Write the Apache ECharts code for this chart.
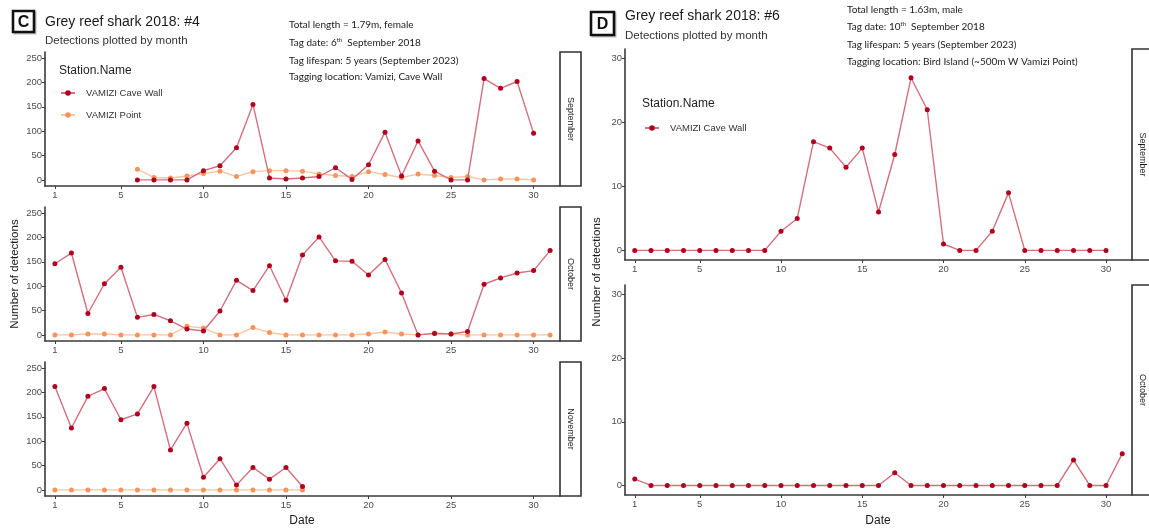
<!DOCTYPE html>
<html><head><meta charset="utf-8">
<script src="https://cdn.jsdelivr.net/npm/echarts@6/dist/echarts.min.js"></script>
<style>html,body{margin:0;padding:0;background:#fff}#c{width:1149px;height:529px}</style>
</head><body><div id="c"></div><script>
// ---- Data ----
const dayTicks = [1, 5, 10, 15, 20, 25, 30];
const cYTicks = [0, 50, 100, 150, 200, 250];
const dYTicks = [0, 10, 20, 30];

// Panel C (#4) — September
const cSepDays = [6,7,8,9,10,11,12,13,14,15,16,17,18,19,20,21,22,23,24,25,26,27,28,29,30];
const cSepCaveWall = [0,0,0,0,19,29,66,155,4,2,4,7,25,1,31,98,8,80,18,0,0,208,188,202,96];
const cSepPoint = [22,5,4,8,13,18,7,17,19,19,18,12,9,7,17,11,5,12,9,5,7,0,2,2,0];
// Panel C — October
const cOctDays = [1,2,3,4,5,6,7,8,9,10,11,12,13,14,15,16,17,18,19,20,21,22,23,24,25,26,27,28,29,30,31];
const cOctCaveWall = [146,168,44,105,139,36,42,29,12,8,49,112,91,142,71,164,201,152,151,123,155,86,0,3,2,7,104,117,127,132,173];
const cOctPoint = [0,0,2,2,0,0,0,0,18,14,0,0,15,5,0,0,0,0,0,2,6,2,0,4,2,0,0,0,0,0,0];
// Panel C — November
const cNovDays = [1,2,3,4,5,6,7,8,9,10,11,12,13,14,15,16];
const cNovCaveWall = [212,127,192,208,144,156,212,82,137,26,64,10,46,22,46,7];
const cNovPoint = [0,0,0,0,0,0,0,0,0,0,0,0,0,0,0,0];

// Panel D (#6) — September
const dSepDays = [1,2,3,4,5,6,7,8,9,10,11,12,13,14,15,16,17,18,19,20,21,22,23,24,25,26,27,28,29,30];
const dSepCaveWall = [0,0,0,0,0,0,0,0,0,3,5,17,16,13,16,6,15,27,22,1,0,0,3,9,0,0,0,0,0,0];
// Panel D — October
const dOctDays = [1,2,3,4,5,6,7,8,9,10,11,12,13,14,15,16,17,18,19,20,21,22,23,24,25,26,27,28,29,30,31];
const dOctCaveWall = [1,0,0,0,0,0,0,0,0,0,0,0,0,0,0,0,2,0,0,0,0,0,0,0,0,0,0,4,0,0,5];

const stationNames = ['VAMIZI Cave Wall', 'VAMIZI Point'];

// ---- Layout / styles ----
const CAVE = {line: '#d2707b', mark: '#b0001e'};
const POINT = {line: '#fcc4a2', mark: '#f7945c'};
const AXIS_COL = '#3a3a3a';
const TICK_LABEL = '#4d4d4d';

const facets = [
  {label: 'September', grid: {left: 45, top: 52, width: 515, height: 134}, y: [-12.5, 262.5], yt: cYTicks,
   series: [[cSepDays, cSepCaveWall, 0], [cSepDays, cSepPoint, 1]], strip: [560, 21]},
  {label: 'October', grid: {left: 45, top: 207, width: 515, height: 134}, y: [-12.5, 262.5], yt: cYTicks,
   series: [[cOctDays, cOctCaveWall, 0], [cOctDays, cOctPoint, 1]], strip: [560, 21]},
  {label: 'November', grid: {left: 45, top: 362, width: 515, height: 134}, y: [-12.5, 262.5], yt: cYTicks,
   series: [[cNovDays, cNovCaveWall, 0], [cNovDays, cNovPoint, 1]], strip: [560, 21]},
  {label: 'September', grid: {left: 625, top: 49, width: 507, height: 211}, y: [-1.5, 31.5], yt: dYTicks,
   series: [[dSepDays, dSepCaveWall, 0]], strip: [1132, 24]},
  {label: 'October', grid: {left: 625, top: 285, width: 507, height: 210}, y: [-1.5, 31.5], yt: dYTicks,
   series: [[dOctDays, dOctCaveWall, 0]], strip: [1132, 24]}
];

const grids = [], xAxes = [], yAxes = [], series = [], graphics = [];
facets.forEach((f, i) => {
  grids.push(Object.assign({containLabel: false}, f.grid));
  xAxes.push({
    type: 'value', gridIndex: i, min: 0.4, max: 31.6,
    axisLine: {show: true, onZero: false, lineStyle: {color: AXIS_COL, width: 1.6}},
    axisTick: {show: true, length: 3, customValues: dayTicks, lineStyle: {color: AXIS_COL, width: 1}},
    axisLabel: {customValues: dayTicks, fontSize: 9.5, color: TICK_LABEL, margin: 4, fontFamily: 'Liberation Sans'},
    splitLine: {show: false}
  });
  yAxes.push({
    type: 'value', gridIndex: i, min: f.y[0], max: f.y[1],
    axisLine: {show: true, onZero: false, lineStyle: {color: AXIS_COL, width: 1.6}},
    axisTick: {show: true, length: 3, customValues: f.yt, lineStyle: {color: AXIS_COL, width: 1}},
    axisLabel: {customValues: f.yt, fontSize: 9.5, color: TICK_LABEL, margin: 3, fontFamily: 'Liberation Sans'},
    splitLine: {show: false}
  });
  f.series.forEach(([days, vals, st]) => {
    const c = st === 0 ? CAVE : POINT;
    series.push({
      type: 'line', name: stationNames[st], xAxisIndex: i, yAxisIndex: i,
      data: days.map((d, k) => [d, vals[k]]),
      symbol: 'circle', symbolSize: 5, showSymbol: true,
      lineStyle: {color: c.line, width: 1.4},
      itemStyle: {color: c.mark},
      z: st === 0 ? 3 : 2,
      silent: true
    });
  });
  // facet strip
  const g = f.grid;
  graphics.push({
    type: 'rect', shape: {x: f.strip[0], y: g.top, width: f.strip[1], height: g.height},
    style: {fill: '#fff', stroke: '#333', lineWidth: 1.6}, z: 10
  });
  graphics.push({
    type: 'text', x: f.strip[0] + 10.5, y: g.top + g.height / 2, rotation: -Math.PI / 2,
    style: {text: f.label, fontSize: 9, fill: '#1a1a1a', align: 'center', verticalAlign: 'middle', fontFamily: 'Liberation Sans'}, z: 11
  });
});

function boxLabel(letter, x, y, w, h) {
  graphics.push({type: 'rect', shape: {x: x + 1.5, y: y + 1.5, width: w, height: h}, style: {fill: 'none', stroke: '#bbb', lineWidth: 2}, z: 9});
  graphics.push({type: 'rect', shape: {x: x, y: y, width: w, height: h}, style: {fill: '#fff', stroke: '#111', lineWidth: 2.6}, z: 10});
  graphics.push({type: 'text', x: x + w / 2, y: y + h / 2 + 1, style: {text: letter, fontSize: 16, fontWeight: 'bold', fill: '#111', align: 'center', verticalAlign: 'middle', fontFamily: 'Liberation Sans'}, z: 11});
}
function txt(t, x, y, size, color, extra) {
  graphics.push({type: 'text', x: x, y: y, style: Object.assign({text: t, fontSize: size, fill: color, verticalAlign: 'middle', fontFamily: 'Liberation Sans'}, extra || {}), z: 12});
}
function info(lines, x, ys) {
  lines.forEach((l, k) => {
    graphics.push({type: 'text', x: x, y: ys[k], z: 12, style: {
      text: l, verticalAlign: 'middle', fontFamily: 'Lato', fontSize: 10, fill: '#1a1a1a',
      rich: {a: {fontSize: 10, fontFamily: 'Lato', fill: '#1a1a1a', lineHeight: 14},
             s: {fontSize: 6, fontFamily: 'Lato', fill: '#1a1a1a', lineHeight: 14, padding: [0, 0, 5, 0]}}
    }});
  });
}

// Panel C texts
boxLabel('C', 13, 11, 21, 21);
txt('Grey reef shark 2018: #4', 45, 22, 14, '#1a1a1a');
txt('Detections plotted by month', 45, 41, 11.5, '#333');
info(['{a|Total length = 1.79m, female}', '{a|Tag date: 6}{s|th}{a|  September 2018}',
      '{a|Tag lifespan: 5 years (September 2023)}', '{a|Tagging location: Vamizi, Cave Wall}'], 289, [25, 43, 61, 77]);
txt('Station.Name', 59, 71, 12, '#222');
txt('Number of detections', 15, 274, 11.5, '#1a1a1a', {align: 'center'});
graphics[graphics.length - 1].rotation = Math.PI / 2;
txt('Date', 302, 521, 12, '#1a1a1a', {align: 'center'});

// Panel D texts
boxLabel('D', 591, 12, 23, 23);
txt('Grey reef shark 2018: #6', 625, 16, 14, '#1a1a1a');
txt('Detections plotted by month', 625, 36, 11.5, '#333');
info(['{a|Total length = 1.63m, male}', '{a|Tag date: 10}{s|th}{a|  September 2018}',
      '{a|Tag lifespan: 5 years (September 2023)}', '{a|Tagging location: Bird Island (~500m W Vamizi Point)}'], 847, [10, 27, 45, 62]);
txt('Station.Name', 642, 104, 12, '#222');
txt('Number of detections', 597, 272, 11.5, '#1a1a1a', {align: 'center'});
graphics[graphics.length - 1].rotation = Math.PI / 2;
txt('Date', 878, 521, 12, '#1a1a1a', {align: 'center'});

const legendCommon = {
  orient: 'vertical', itemWidth: 14, itemHeight: 7, itemGap: 12, padding: 0,
  textStyle: {fontSize: 9.5, color: '#333', fontFamily: 'Liberation Sans', padding: [0, 0, 0, 6]},
  selectedMode: false
};

const chart = echarts.init(document.getElementById('c'), null, {renderer: 'canvas'});
chart.setOption({
  animation: false,
  backgroundColor: '#fff',
  grid: grids,
  xAxis: xAxes,
  yAxis: yAxes,
  legend: [
    Object.assign({left: 60, top: 88, data: stationNames.slice()}, legendCommon),
    Object.assign({left: 644, top: 123, data: [stationNames[0]]}, legendCommon)
  ],
  series: series,
  graphic: graphics
});
</script></body></html>
